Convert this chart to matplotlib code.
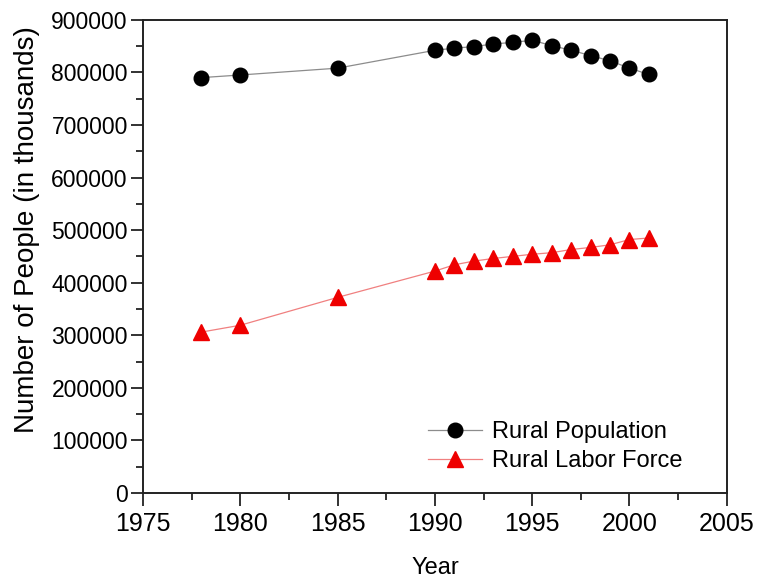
import matplotlib
matplotlib.use("Agg")
import matplotlib.pyplot as plt
from matplotlib.ticker import MultipleLocator

plt.rcParams["font.family"] = ["Liberation Sans", "DejaVu Sans"]

years = [1978, 1980, 1985, 1990, 1991, 1992, 1993, 1994, 1995, 1996,
         1997, 1998, 1999, 2000, 2001]
rural_pop = [790000, 795000, 808000, 842000, 846000, 849000, 854000, 857000,
             861000, 851000, 842000, 832000, 822000, 808000, 796000]
rural_labor = [306000, 319000, 372000, 422000, 434000, 441000, 446000, 450000,
               454000, 457000, 463000, 467000, 472000, 482000, 485000]

fig = plt.figure(figsize=(7.57, 5.82), dpi=100)
ax = fig.add_axes([0.189, 0.153, 0.771, 0.813])

ax.plot(years, rural_pop, color="#8c8c8c", linewidth=0.9, marker="o",
        markersize=10.5, markerfacecolor="black", markeredgecolor="black",
        label="Rural Population")
ax.plot(years, rural_labor, color="#f08080", linewidth=0.9, marker="^",
        markersize=11.5, markerfacecolor="#ee0000", markeredgecolor="#ee0000",
        label="Rural Labor Force")

ax.set_xlim(1975, 2005)
ax.set_ylim(0, 900000)
ax.xaxis.set_major_locator(MultipleLocator(5))
ax.xaxis.set_minor_locator(MultipleLocator(2.5))
ax.yaxis.set_major_locator(MultipleLocator(100000))
ax.yaxis.set_minor_locator(MultipleLocator(50000))

ax.tick_params(axis="both", which="major", direction="out", length=9,
               width=1.3, color="#222222")
ax.tick_params(axis="both", which="minor", direction="out", length=5,
               width=1.3, color="#222222")
ax.tick_params(axis="x", labelsize=18, pad=5)
ax.tick_params(axis="y", labelsize=16.5, pad=2)
for s in ax.spines.values():
    s.set_linewidth(1.4)
    s.set_color("#222222")

ax.set_xlabel("Year", fontsize=17, labelpad=15)
ax.set_ylabel("Number of People (in thousands)", fontsize=20)
ax.yaxis.set_label_coords(-0.177, 0.556)

ax.legend(loc="lower left", bbox_to_anchor=(0.488, 0.044), frameon=False,
          borderpad=0, borderaxespad=0, fontsize=17, handlelength=2.3,
          handletextpad=0.42, labelspacing=0.3)

fig.savefig("out.png", dpi=100)
